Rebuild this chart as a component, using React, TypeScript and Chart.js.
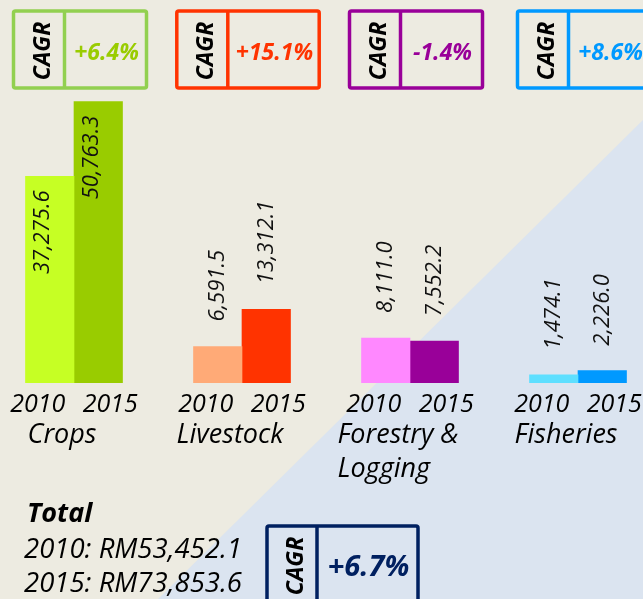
import React, { useEffect, useRef } from "react";
import { Chart, registerables } from "chart.js";

Chart.register(...registerables);

// ---------- data ----------
const categories: string[][] = [["Crops"], ["Livestock"], ["Forestry &", "Logging"], ["Fisheries"]];
const years = ["2010", "2015"];
const values2010 = [37275.6, 6591.5, 8111.0, 1474.1];
const values2015 = [50763.3, 13312.1, 7552.2, 2226.0];
const cagrLabels = ["+6.4%", "+15.1%", "-1.4%", "+8.6%"];
const cagrWord = "CAGR";
const totalTitle = "Total";
const totalLines = ["2010: RM53,452.1", "2015: RM73,853.6"];
const totalCagr = "+6.7%";

// ---------- styles ----------
const colors2010 = ["#C6FF24", "#FFAA77", "#FF88FF", "#5EDFFF"];
const colors2015 = ["#99CC00", "#FF3300", "#990099", "#0099FF"];
const boxColors = ["#92D050", "#FF3300", "#990099", "#0099FF"];
const cagrTextColors = ["#99CC00", "#FF3300", "#990099", "#0099FF"];
const NAVY = "#002060";
const BG = "#EDEBE1";
const BLUE = "#DBE4F0";
const FONT = '"Open Sans", "Noto Sans", sans-serif';
const W = 643;
const H = 599;

const fmt = new Intl.NumberFormat("en-US", { minimumFractionDigits: 1, maximumFractionDigits: 1 });

function drawBox(ctx: CanvasRenderingContext2D, left: number, top: number, width: number, height: number, leftW: number, color: string, valueText: string, valueColor: string, valueSize: number, valueBaseline: number) {
  ctx.save();
  ctx.strokeStyle = color;
  ctx.lineWidth = 3.5;
  ctx.beginPath();
  (ctx as any).roundRect ? (ctx as any).roundRect(left, top, width, height, 2) : ctx.rect(left, top, width, height);
  ctx.stroke();
  ctx.beginPath();
  ctx.moveTo(left + leftW, top);
  ctx.lineTo(left + leftW, top + height);
  ctx.stroke();
  // CAGR rotated
  ctx.save();
  ctx.translate(left + 36, top + 40);
  ctx.rotate(-Math.PI / 2);
  ctx.font = `italic bold 23px ${FONT}`;
  ctx.fillStyle = "#000";
  ctx.textAlign = "center";
  ctx.textBaseline = "alphabetic";
  ctx.fillText(cagrWord, 0, 0);
  ctx.restore();
  // value
  ctx.font = `italic bold ${valueSize}px ${FONT}`;
  ctx.fillStyle = valueColor;
  ctx.textAlign = "center";
  ctx.textBaseline = "alphabetic";
  ctx.fillText(valueText, left + leftW + (width - leftW) / 2 + 1, top + valueBaseline);
  ctx.restore();
}

const decor = {
  id: "decor",
  beforeDraw(chart: any) {
    const ctx: CanvasRenderingContext2D = chart.ctx;
    ctx.save();
    ctx.fillStyle = BG;
    ctx.fillRect(0, 0, chart.width, chart.height);
    ctx.fillStyle = BLUE;
    ctx.beginPath();
    ctx.moveTo(chart.width, 120);
    ctx.lineTo(chart.width, chart.height);
    ctx.lineTo(158, chart.height);
    ctx.closePath();
    ctx.fill();
    ctx.restore();
  },
  afterDatasetsDraw(chart: any) {
    const ctx: CanvasRenderingContext2D = chart.ctx;
    const m0 = chart.getDatasetMeta(0).data;
    const m1 = chart.getDatasetMeta(1).data;
    ctx.save();
    // value labels
    [m0, m1].forEach((els: any[], d: number) => {
      const vals = d === 0 ? values2010 : values2015;
      els.forEach((el: any, i: number) => {
        const text = fmt.format(vals[i]);
        ctx.font = `italic 22px ${FONT}`;
        const tw = ctx.measureText(text).width;
        const inside = el.y - 25 - tw < 100;
        ctx.save();
        ctx.fillStyle = "#111";
        ctx.textBaseline = "middle";
        if (inside) {
          ctx.translate(el.x - 7, el.y + 14);
          ctx.rotate(-Math.PI / 2);
          ctx.textAlign = "right";
        } else {
          ctx.translate(el.x, el.y - 25);
          ctx.rotate(-Math.PI / 2);
          ctx.textAlign = "left";
        }
        ctx.fillText(text, 0, 0);
        ctx.restore();
        // year labels
        ctx.font = `italic 25px ${FONT}`;
        ctx.fillStyle = "#000";
        ctx.textAlign = "center";
        ctx.textBaseline = "alphabetic";
        ctx.fillText(years[d], el.x + (d === 0 ? -12 : 12), 412);
      });
    });
    // category labels and CAGR boxes
    categories.forEach((lines, i) => {
      const gc = (m0[i].x + m1[i].x) / 2;
      ctx.font = `italic 27px ${FONT}`;
      ctx.fillStyle = "#000";
      ctx.textAlign = "left";
      ctx.textBaseline = "alphabetic";
      const maxW = Math.max(...lines.map((l) => ctx.measureText(l).width));
      lines.forEach((l, k) => ctx.fillText(l, gc - 12 - maxW / 2, 443 + k * 34));
      ctx.font = `italic bold 23px ${FONT}`;
      const vw = ctx.measureText(cagrLabels[i]).width;
      const bw = 51 + Math.max(82, vw + 14);
      drawBox(ctx, gc + 6 - bw / 2, 11, bw, 77, 51, boxColors[i], cagrLabels[i], cagrTextColors[i], 23, 49);
    });
    // total
    ctx.fillStyle = "#000";
    ctx.textAlign = "left";
    ctx.textBaseline = "alphabetic";
    ctx.font = `italic bold 27px ${FONT}`;
    ctx.fillText(totalTitle, 27, 522);
    ctx.font = `italic 27.5px ${FONT}`;
    totalLines.forEach((l, k) => ctx.fillText(l, 24, 558 + k * 34));
    drawBox(ctx, 267, 526, 151, 110, 50, NAVY, totalCagr, NAVY, 29, 50);
    ctx.restore();
  },
};

export default function App() {
  const ref = useRef<HTMLCanvasElement | null>(null);
  useEffect(() => {
    if (!ref.current) return;
    const chart = new Chart(ref.current, {
      type: "bar",
      data: {
        datasets: years.map((yr, d) => ({
          label: yr,
          data: (d === 0 ? values2010 : values2015).map((v, i) => ({ x: i, y: v })),
          backgroundColor: d === 0 ? colors2010 : colors2015,
          borderWidth: 0,
          barThickness: 48.5,
        })),
      } as any,
      options: {
        animation: false,
        responsive: false,
        layout: { padding: { top: 0, left: 0, right: 0, bottom: 216 } },
        plugins: { legend: { display: false }, tooltip: { enabled: false } },
        scales: {
          x: { type: "linear", display: false, offset: false, min: -74 / 168, max: (W - 74) / 168 },
          y: { display: false, min: 0, max: 69100 },
        },
      } as any,
      plugins: [decor],
    });
    return () => chart.destroy();
  }, []);
  return (
    <div style={{ position: "absolute", left: 0, top: 0, width: W, height: H, overflow: "hidden" }}>
      <canvas ref={ref} width={W} height={H} style={{ display: "block" }} />
    </div>
  );
}
